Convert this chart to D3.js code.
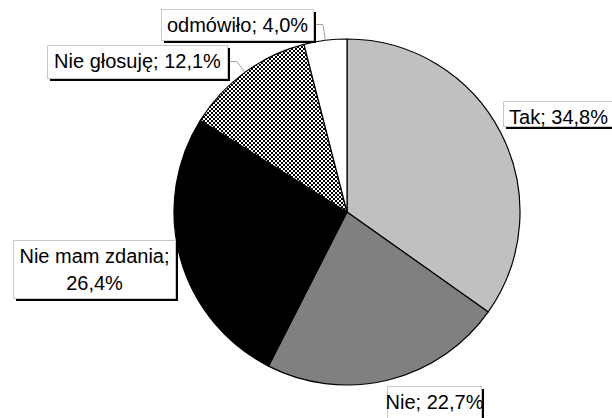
<!DOCTYPE html>
<html>
<head>
<meta charset="utf-8">
<script src="https://cdn.jsdelivr.net/npm/d3@7"></script>
<style>
  body { margin: 0; background: #fff; }
  text { font-family: "Liberation Sans", Arial, sans-serif; font-size: 20px; fill: #000; }
</style>
</head>
<body>
<div id="chart"></div>
<script>
// chart data
var categories = ["Tak", "Nie", "Nie mam zdania", "Nie głosuję", "odmówiło"];
var percents = [34.8, 22.7, 26.4, 12.1, 4.0];

var svgWidth = 612;
var svgHeight = 418;

var cx = 347;
var cy = 212;
var radius = 173;

// slice fills (checker pattern for "Nie głosuję")
var fills = ["#c0c0c0", "#808080", "#000000", "url(#checker)", "#ffffff"];

// label boxes: x, y, w, h (layout only)
var boxes = [
  { x: 503, y: 101, w: 110, h: 25 },
  { x: 387, y: 386, w: 94, h: 34 },
  { x: 13, y: 240, w: 162, h: 58 },
  { x: 47, y: 45, w: 180, h: 33 },
  { x: 161, y: 9, w: 152, h: 31 }
];
// which labels get a leader line to the slice
var leaders = [false, false, false, true, true];

var svg = d3.select("#chart")
  .append("svg")
  .attr("width", svgWidth)
  .attr("height", svgHeight);

// checker pattern, 2px cells
var defs = svg.append("defs");
var pat = defs.append("pattern")
  .attr("id", "checker")
  .attr("patternUnits", "userSpaceOnUse")
  .attr("width", 4)
  .attr("height", 4);
pat.append("rect").attr("width", 4).attr("height", 4).attr("fill", "#fff");
pat.append("rect").attr("x", 0).attr("y", 0).attr("width", 2).attr("height", 2).attr("fill", "#000");
pat.append("rect").attr("x", 2).attr("y", 2).attr("width", 2).attr("height", 2).attr("fill", "#000");

var pie = d3.pie()
  .sort(null)
  .value(d => d);

var arcs = pie(percents);

var arc = d3.arc()
  .innerRadius(0)
  .outerRadius(radius);

var edgeArc = d3.arc()
  .innerRadius(radius)
  .outerRadius(radius);

var pieGroup = svg.append("g")
  .attr("transform", `translate(${cx}, ${cy})`);

pieGroup.selectAll("path")
  .data(arcs)
  .enter()
  .append("path")
  .attr("d", arc)
  .attr("fill", (d, i) => fills[i])
  .attr("stroke", "#000")
  .attr("stroke-width", 1.2)
  .attr("stroke-linejoin", "round");

function fmt(v) {
  return v.toFixed(1).replace(".", ",") + "%";
}

// leader lines
arcs.forEach(function(d, i) {
  if (!leaders[i]) return;
  var b = boxes[i];
  var p = edgeArc.centroid(d);
  var ex = cx + p[0];
  var ey = cy + p[1];
  var my = b.y + b.h / 2;
  svg.append("polyline")
    .attr("points", [[b.x + b.w, my], [b.x + b.w + 10, my], [ex, ey]].map(q => q.join(",")).join(" "))
    .attr("fill", "none")
    .attr("stroke", "#a0a0a0")
    .attr("stroke-width", 1);
});

// label boxes with shadow
var labels = svg.selectAll("g.lbl")
  .data(categories)
  .enter()
  .append("g")
  .attr("class", "lbl");

labels.append("rect")
  .attr("x", (d, i) => boxes[i].x + 3)
  .attr("y", (d, i) => boxes[i].y + 3)
  .attr("width", (d, i) => boxes[i].w)
  .attr("height", (d, i) => boxes[i].h)
  .attr("fill", "#000");

labels.append("rect")
  .attr("x", (d, i) => boxes[i].x + 0.5)
  .attr("y", (d, i) => boxes[i].y + 0.5)
  .attr("width", (d, i) => boxes[i].w)
  .attr("height", (d, i) => boxes[i].h)
  .attr("fill", "#fff")
  .attr("stroke", "#c8c8c8")
  .attr("stroke-width", 1);

labels.each(function(d, i) {
  var b = boxes[i];
  var g = d3.select(this);
  var lines = d.length > 12 ? [d + ";", fmt(percents[i])] : [d + "; " + fmt(percents[i])];
  lines.forEach(function(t, k) {
    g.append("text")
      .attr("x", b.x + b.w / 2 + 0.5)
      .attr("y", b.y + 23 + k * 27)
      .attr("text-anchor", "middle")
      .text(t);
  });
});
</script>
</body>
</html>
